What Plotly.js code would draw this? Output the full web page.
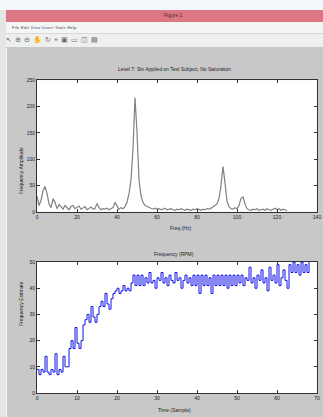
<!DOCTYPE html>
<html><head><meta charset="utf-8">
<script src="https://cdn.plot.ly/plotly-3.0.1.min.js"></script>
<style>
body{margin:0;width:323px;height:417px;background:#f3f7f9;overflow:hidden;font-family:"Liberation Sans",Arial,sans-serif;position:relative}
#tb{position:absolute;left:6px;top:10px;width:317px;height:12px;background:#dc7682}
#tb span{position:absolute;left:158px;top:2px;font-size:5px;color:#4a2a30}
#menu{position:absolute;left:6px;top:22px;width:317px;height:11px;background:#f4f6f6;border-bottom:1px solid #d8d8d8}
#menu span{position:absolute;left:6px;top:3px;font-size:4px;color:#444;letter-spacing:0.3px}
#tools{position:absolute;left:6px;top:34px;width:317px;height:13px;background:#eef0f0;border-bottom:1px solid #c8c8c8}
#tools span{position:absolute;left:0px;top:2px;font-size:7px;color:#666;letter-spacing:0.5px}
#left{position:absolute;left:0;top:10px;width:6px;height:407px;background:#e4e6e6}
#plot{position:absolute;left:7px;top:48px;width:316px;height:369px}
</style></head><body>
<div id="left"></div>
<div id="tb"><span>Figure 1</span></div>
<div id="menu"><span>File Edit View Insert Tools Help</span></div>
<div id="tools"><span>↖ ⊕ ⊖ ✋ ↻ ⌖ ▣ ▭ ◫ ▤</span></div>
<div id="plot"></div>
<script>
// Top: spectrum (frequency in Hz, step 1)
const specAmp = [30,12,22,40,48,35,15,8,25,18,6,14,10,5,12,7,4,10,12,6,9,11,5,8,10,4,7,9,5,6,16,8,4,6,5,7,4,6,8,18,10,5,8,6,10,18,35,60,120,217,150,60,30,18,12,10,8,6,5,7,5,6,4,5,7,4,5,6,4,3,5,4,6,4,3,5,4,3,5,4,6,4,3,5,4,6,5,7,9,12,15,25,50,86,55,20,10,6,5,8,6,12,25,29,15,6,4,3,5,4,6,3,4,5,3,6,4,3,5,7,4,6,3,5,4,2];
const specStart = 0, specStep = 1;
const topXTicks = [0,20,40,60,80,100,120,140];
const topYTicks = [0,50,100,150,200,250];
// Bottom: tracked frequency vs time (step 0.5)
const trackVals = [9,7,9,8,14,8,7,9,8,15,7,9,8,14,10,10,17,20,17,25,19,17,20,26,28,30,27,33,29,27,30,33,35,33,38,34,32,36,38,39,40,38,39,41,39,40,39,42,45,41,45,41,45,41,44,42,46,42,43,40,44,43,46,42,44,41,45,43,42,46,43,44,40,43,45,42,44,41,45,41,45,38,45,41,45,41,44,38,45,41,45,41,45,41,45,40,45,41,45,41,45,42,45,41,44,43,48,42,44,40,45,43,47,42,44,39,48,43,45,42,49,41,44,47,43,40,49,46,50,46,49,45,50,46,49,46,50];
const trackStart = 0, trackStep = 0.5;
const botXTicks = [0,10,20,30,40,50,60,70];
const botYTicks = [0,10,20,30,40,50];

const tf = {family:"Liberation Sans, Arial", size:5, color:"#222"};
function ax(dom, anchor, ticks, range){
  return {domain:dom, anchor:anchor, range:range, tickvals:ticks, ticktext:ticks.map(String),
    showline:true, mirror:'ticks', ticks:'inside', ticklen:3, tickcolor:'#333', linecolor:'#333', linewidth:1,
    showgrid:false, zeroline:false, tickfont:tf, fixedrange:true};
}
const data = [
  {x0:specStart, dx:specStep, y:specAmp, type:'scatter', mode:'lines', line:{color:'#808080', width:1.2}, xaxis:'x', yaxis:'y', hoverinfo:'skip'},
  {x0:trackStart, dx:trackStep, y:trackVals, type:'scatter', mode:'lines', line:{color:'#1010e8', width:1, shape:'hv'}, xaxis:'x2', yaxis:'y2', hoverinfo:'skip'}
];
const layout = {
  width:316, height:369, margin:{l:0,r:0,t:0,b:0}, showlegend:false,
  paper_bgcolor:'#c8c8c8', plot_bgcolor:'#ffffff',
  xaxis: ax([0.095,0.981],'y',topXTicks,[0,140]),
  yaxis: ax([0.556,0.913],'x',topYTicks,[0,250]),
  xaxis2: ax([0.095,0.981],'y2',botXTicks,[0,70]),
  yaxis2: ax([0.065,0.42],'x2',botYTicks,[0,50]),
  annotations:[
    {text:'Level 7: Sin Applied on Test Subject, No Saturation', xref:'paper', yref:'paper', x:0.53, y:1-21/369, showarrow:false, font:tf, yanchor:'middle'},
    {text:'Freq (Hz)', xref:'paper', yref:'paper', x:0.55, y:1-180/369, showarrow:false, font:tf, yanchor:'middle'},
    {text:'Frequency Amplitude', xref:'paper', yref:'paper', x:14/316, y:0.735, showarrow:false, font:tf, textangle:-90, xanchor:'center'},
    {text:'Frequency (RPM)', xref:'paper', yref:'paper', x:0.53, y:1-206/369, showarrow:false, font:tf, yanchor:'middle'},
    {text:'Time (Sample)', xref:'paper', yref:'paper', x:0.53, y:1-362/369, showarrow:false, font:tf, yanchor:'middle'},
    {text:'Frequency Estimate', xref:'paper', yref:'paper', x:14/316, y:0.24, showarrow:false, font:tf, textangle:-90, xanchor:'center'}
  ]
};
Plotly.newPlot('plot', data, layout, {staticPlot:true, displayModeBar:false});
</script>
</body></html>
